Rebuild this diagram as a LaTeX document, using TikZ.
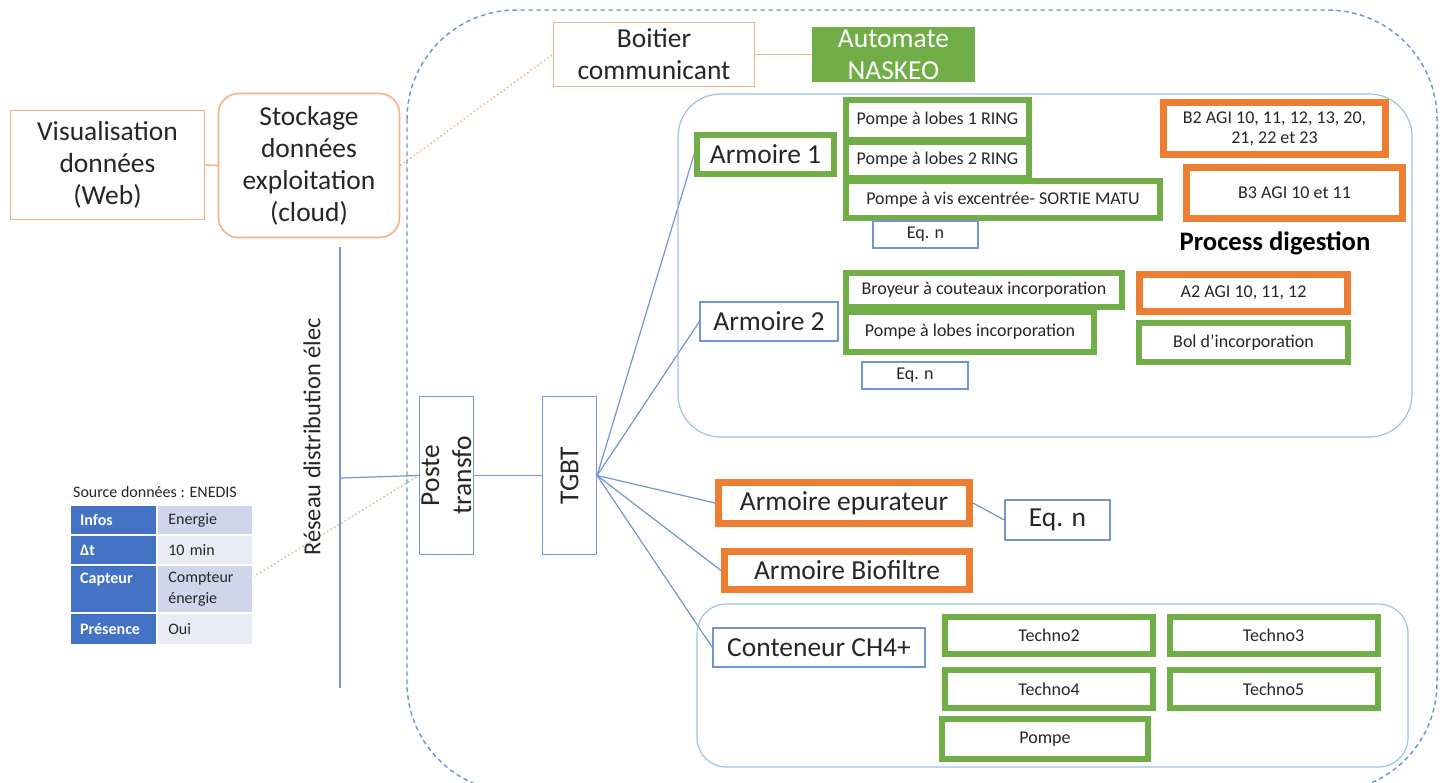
\documentclass[tikz,border=0pt]{standalone}
\usepackage{fontspec}
\setmainfont{Carlito}
\usetikzlibrary{calc,backgrounds}

\definecolor{gr}{HTML}{70AD47}
\definecolor{grL}{HTML}{A9D18E}
\definecolor{orD}{HTML}{ED7D31}
\definecolor{orL}{HTML}{F4B183}
\definecolor{bl}{HTML}{7295D6}
\definecolor{grp}{HTML}{9DC3E6}
\definecolor{txt}{HTML}{262626}
\definecolor{thead}{HTML}{4472C4}
\definecolor{tcellA}{HTML}{CFD5EA}
\definecolor{tcellB}{HTML}{E9EBF5}

\tikzset{
  sz/.style 2 args={minimum width=#1*0.75pt, minimum height=#2*0.75pt},
  big/.style={font=\fontsize{20.6}{24}\selectfont, text=txt, align=center, inner sep=0pt},
  small/.style={font=\fontsize{13.5}{15}\selectfont, text=txt, align=center, inner sep=0pt},
  obox/.style={draw=orL, line width=1.2pt, fill=white},
  gbox/.style={draw=gr, line width=4.5pt, fill=white},
  ogbox/.style={draw=orD, line width=5.2pt, fill=white},
  bbox/.style={draw=bl, line width=0.9pt, fill=white},
  wire/.style={draw=bl, line width=0.9pt},
  grpbox/.style={draw=grp, line width=0.9pt},
  hcell/.style={fill=thead, draw=white, line width=1.2pt, text=white, inner sep=0pt,
    font=\fontsize{12}{16}\selectfont\bfseries, text width=50pt, align=left},
  vcell/.style={draw=white, line width=1.2pt, text=txt, inner sep=0pt,
    font=\fontsize{12}{16}\selectfont, text width=55pt, align=left},
}

\begin{document}
\begin{tikzpicture}[x=0.75pt, y=-0.75pt]
\clip (0,0) rectangle (1448,782);
\begin{scope}[on background layer]
  \fill[white] (0,0) rectangle (1448,782);
\end{scope}

% site boundary and groups
\draw[bl, line width=1.1pt, dash pattern=on 3.4pt off 2.6pt, rounded corners=82pt]
  (407,10) rectangle (1437,792);
\draw[grpbox, rounded corners=32pt] (678,94) rectangle (1412,437);
\draw[grpbox, rounded corners=22pt] (697,604) rectangle (1408,767);

% data side
\node[obox, sz={194}{109}, big] (vis) at (107.5,165) {Visualisation\\données\\(Web)};
\node[obox, sz={181}{144}, rounded corners=15pt, big] (sto) at (309,165.5)
  {Stockage\\données\\exploitation\\(cloud)};
\node[obox, sz={201}{64}, big] (boi) at (654,54.5) {Boitier\\communicant};
\node[fill=gr, sz={163}{55}, big, text=white] (aut) at (893.5,54.5) {Automate\\NASKEO};

% grid and transformer
\coordinate (rtop) at (340,247);
\coordinate (rbot) at (340,688);
\coordinate (rj) at (340,478);
\node[rotate=90, font=\fontsize{18.3}{22}\selectfont, text=txt, inner sep=0pt] (res) at (312,437)
  {Réseau distribution élec};
\node[bbox, rotate=90, sz={158}{54}, big] (pos) at (446.5,475.5) {Poste\\transfo};
\node[bbox, rotate=90, sz={158}{54}, big] (tgbt) at (569.5,475.5) {TGBT};

% Armoire 1
\node[gbox, sz={137}{39}, big] (a1) at (765.5,154.5) {Armoire 1};
\node[gbox, sz={183}{40}, small] (l1) at (937.5,120) {Pompe à lobes 1 RING};
\node[gbox, sz={183}{36}, small] (l2) at (937.5,160) {Pompe à lobes 2 RING};
\node[gbox, sz={314}{37}, small] (vis2) at (1003,199.5) {Pompe à vis excentrée- SORTIE MATU};
\node[bbox, sz={105}{27}, small] (eq1) at (925.5,234.5) {Eq. n};
\node[ogbox, sz={222}{52}, small] (b2) at (1274.5,128.5)
  {B2 AGI 10, 11, 12, 13, 20,\\21, 22 et 23};
\node[ogbox, sz={216}{51}, small] (b3) at (1294.5,193) {B3 AGI 10 et 11};
\node[font=\fontsize{20}{24}\selectfont\bfseries, text=black, inner sep=0pt] (pd) at (1275,243)
  {Process digestion};

% Armoire 2
\node[bbox, sz={138}{39}, big] (a2) at (769,321.5) {Armoire 2};
\node[gbox, sz={276}{34}, small] (bro) at (984,290) {Broyeur à couteaux incorporation};
\node[gbox, sz={248}{40}, small] (pli) at (970,332) {Pompe à lobes incorporation};
\node[bbox, sz={106}{27}, small] (eq2) at (915,375.5) {Eq. n};
\node[ogbox, sz={208}{37}, small] (a2agi) at (1243.5,293) {A2 AGI 10, 11, 12};
\node[gbox, sz={209}{39}, small] (bol) at (1243.5,342.5) {Bol d’incorporation};

% Epurateur / Biofiltre
\node[ogbox, sz={251}{41}, big] (epu) at (844,503) {Armoire epurateur};
\node[bbox, sz={105}{40}, big] (eqe) at (1057.5,520) {Eq. n};
\node[ogbox, sz={245}{38}, big] (bio) at (847,570.5) {Armoire Biofiltre};

% Conteneur CH4+
\node[bbox, sz={212}{39}, big] (ch4) at (819,647.5) {Conteneur CH4+};
\node[gbox, sz={208}{37}, small] (t2) at (1049,635.5) {Techno2};
\node[gbox, sz={208}{37}, small] (t3) at (1273.5,635.5) {Techno3};
\node[gbox, sz={208}{38}, small] (t4) at (1049,689) {Techno4};
\node[gbox, sz={208}{38}, small] (t5) at (1273.5,689) {Techno5};
\node[gbox, sz={206}{40}, small] (pom) at (1045,739) {Pompe};

% ENEDIS data table
\node[font=\fontsize{12}{14}\selectfont, text=txt, inner sep=0pt] (src) at (155,492)
  {Source données : ENEDIS};
\node[hcell, sz={87}{30}] (h1) at (113.5,520) {Infos};
\node[vcell, fill=tcellA, sz={96}{30}] (v1) at (205,520) {Energie};
\node[hcell, sz={87}{30}] (h2) at (113.5,550) {Δt};
\node[vcell, fill=tcellB, sz={96}{30}] (v2) at (205,550) {10 min};
\node[hcell, sz={87}{48}] (h3) at (113.5,589) {Capteur\\\mbox{}};
\node[vcell, fill=tcellA, sz={96}{48}] (v3) at (205,589) {Compteur\\énergie};
\node[hcell, sz={87}{32}] (h4) at (113.5,629) {Présence};
\node[vcell, fill=tcellB, sz={96}{32}] (v4) at (205,629) {Oui};
\coordinate (tout) at (253,577);

% connectors, kept behind the boxes
\begin{scope}[on background layer]
  \draw[orL, line width=1.2pt] (vis.east) -- (sto.west);
  \draw[orL, line width=1.2pt] (boi.east) -- (aut.west);
  \draw[orL, line width=1.1pt, dotted] (sto.east) -- (boi.west);
  \draw[wire] (rtop) -- (rbot);
  \draw[wire] (rj) -- (pos.north);
  \draw[wire] (pos.south) -- (tgbt.north);
  \draw[grL, line width=1.1pt, dotted] (tout) -- (pos.north);
  \draw[wire] (tgbt.south) -- (a1.west);
  \draw[wire] (tgbt.south) -- (a2.west);
  \draw[wire] (tgbt.south) -- (epu.west);
  \draw[wire] (tgbt.south) -- (bio.west);
  \draw[wire] (tgbt.south) -- (ch4.west);
  \draw[wire] (epu.east) -- (eqe.west);
\end{scope}
\end{tikzpicture}
\end{document}
